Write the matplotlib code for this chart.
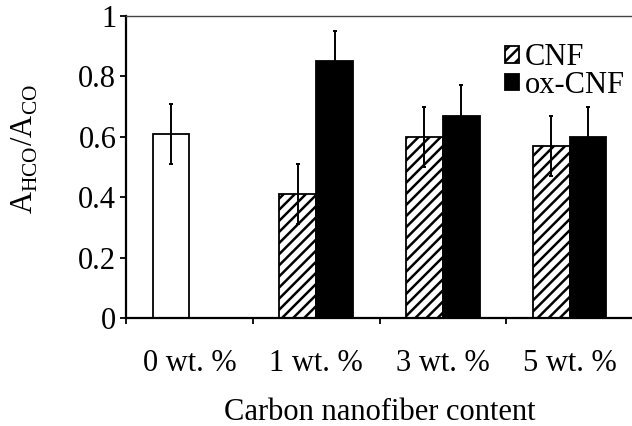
import matplotlib
matplotlib.use("Agg")
import matplotlib.pyplot as plt
import numpy as np

# values
categories = ["0 wt. %", "1 wt. %", "3 wt. %", "5 wt. %"]
pristine = [0.61]            # 0 wt. % (no fiber), open bar
pristine_err = [0.10]
cnf = [0.41, 0.60, 0.57]      # 1, 3, 5 wt. %
cnf_err = [0.10, 0.10, 0.10]
ox_cnf = [0.85, 0.67, 0.60]
ox_cnf_err = [0.10, 0.10, 0.10]

plt.rcParams["font.family"] = ["Liberation Serif", "DejaVu Serif"]
plt.rcParams["mathtext.fontset"] = "custom"
plt.rcParams["mathtext.rm"] = "Liberation Serif"
plt.rcParams["hatch.linewidth"] = 1.8
plt.rcParams["font.size"] = 22

fig = plt.figure(figsize=(6.32, 4.26), dpi=100)
ax = fig.add_axes([126 / 632, 108 / 426, 507 / 632, 302 / 426])

x = np.arange(len(categories)) + 0.5
w = 0.29
err_kw = dict(ecolor="black", elinewidth=1.4, capsize=1.5, capthick=1.4)

ax.bar(x[:1] - w / 2, pristine, w, yerr=pristine_err, color="white",
       edgecolor="black", linewidth=1.3, error_kw=err_kw)
ax.bar(x[1:] - w / 2, cnf, w, yerr=cnf_err, color="white", edgecolor="black",
       hatch="///", linewidth=1.3, error_kw=err_kw, label="CNF")
ax.bar(x[1:] + w / 2, ox_cnf, w, yerr=ox_cnf_err, color="black",
       edgecolor="black", linewidth=1.3, error_kw=err_kw, label="ox-CNF")

ax.set_xlim(0, len(categories))
ax.set_ylim(0, 1)
ax.set_yticks([0, 0.2, 0.4, 0.6, 0.8, 1])
ax.set_yticklabels(["0", "0.2", "0.4", "0.6", "0.8", "1"])
ax.set_xticks(x)
ax.set_xticklabels(categories)
ax.set_xticks(np.arange(len(categories)), minor=True)
ax.tick_params(axis="x", which="major", length=0, pad=22)
ax.tick_params(axis="x", which="minor", length=4, width=1.3, direction="out")
ax.tick_params(axis="y", length=4, width=1.3, pad=3)

for side in ["left", "bottom"]:
    ax.spines[side].set_linewidth(1.6)
ax.spines["top"].set_linewidth(1.0)
ax.spines["top"].set_color("#444444")
ax.spines["right"].set_visible(False)

ax.set_xlabel("Carbon nanofiber content", labelpad=15)
ax.set_ylabel(r"A$_{\mathrm{HCO}}$/A$_{\mathrm{CO}}$")
ax.yaxis.set_label_coords(-0.17, 0.56)

ax.legend(loc="upper right", bbox_to_anchor=(0.984, 0.91), frameon=False,
          handlelength=0.45, handleheight=0.45, handletextpad=0.2,
          labelspacing=-0.05, borderaxespad=0.0, borderpad=0.0)

fig.savefig("out.png", dpi=100)
